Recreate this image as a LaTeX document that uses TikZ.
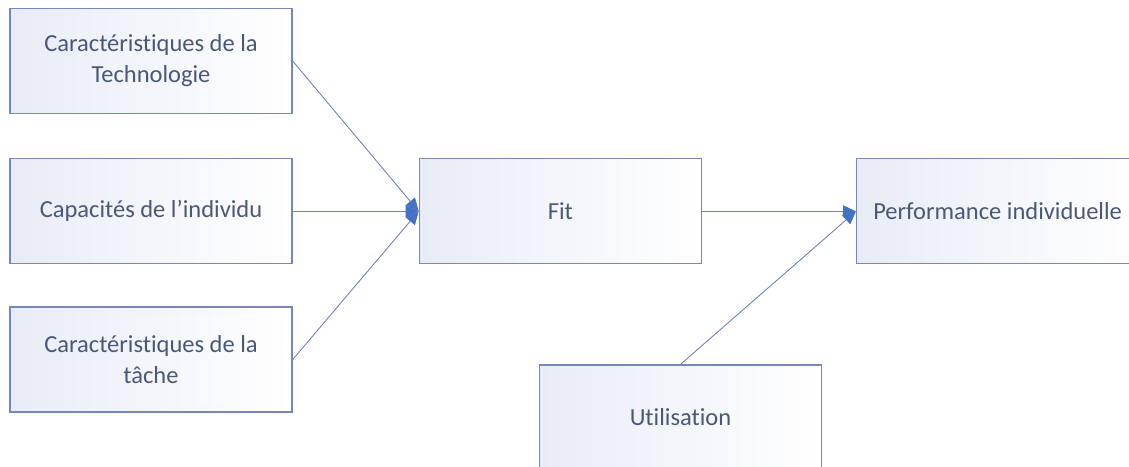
\documentclass[tikz,border=0pt]{standalone}
\usepackage{fontspec}
\setmainfont[Ligatures=NoCommon]{Carlito}
\usepackage{tikz}
\usetikzlibrary{
  arrows.meta,
  positioning
}
\definecolor{boxline}{HTML}{7787BA}
\definecolor{boxfill}{HTML}{E8ECF6}
\definecolor{linkline}{HTML}{6F84C0}
\definecolor{tipblue}{HTML}{4472C4}
\definecolor{boxtext}{HTML}{4A5878}

\begin{document}
\begin{tikzpicture}[
  node distance=44pt and 126pt,
  box/.style={draw=boxline, line width=1.3pt, left color=boxfill, right color=white,
    minimum width=282pt, minimum height=105pt, align=center, text=boxtext,
    font=\fontsize{24.5pt}{31pt}\selectfont, inner sep=0pt},
  arr/.style={-{Triangle[length=13pt,width=12pt,color=tipblue]}, draw=linkline, line width=0.9pt}
]
\useasboundingbox (0,0) rectangle (1129pt,-466pt);
\clip (0,0) rectangle (1129pt,-466pt);

% Left: the three inputs
\node[box] (tech) at (151pt,-61pt) {Caractéristiques de la\\Technologie};
\node[box, below=of tech] (indiv) {Capacités de l’individu};
\node[box, below=42pt of indiv] (tache) {Caractéristiques de la\\tâche};

% Middle: fit
\node[box, right=of indiv] (fit) {Fit};

% Right: performance
\node[box, right=154pt of fit] (perf) {Performance individuelle};

% Bottom: utilisation
\node[box] (util) at (680.5pt,-417.5pt) {Utilisation};

% Arrows
\draw[arr] (tech.east) -- (fit.west);
\draw[arr] (indiv.east) -- (fit.west);
\draw[arr] (tache.east) -- (fit.west);
\draw[arr] (fit.east) -- (perf.west);
\draw[arr] (util.north) -- (perf.west);

\end{tikzpicture}
\end{document}
